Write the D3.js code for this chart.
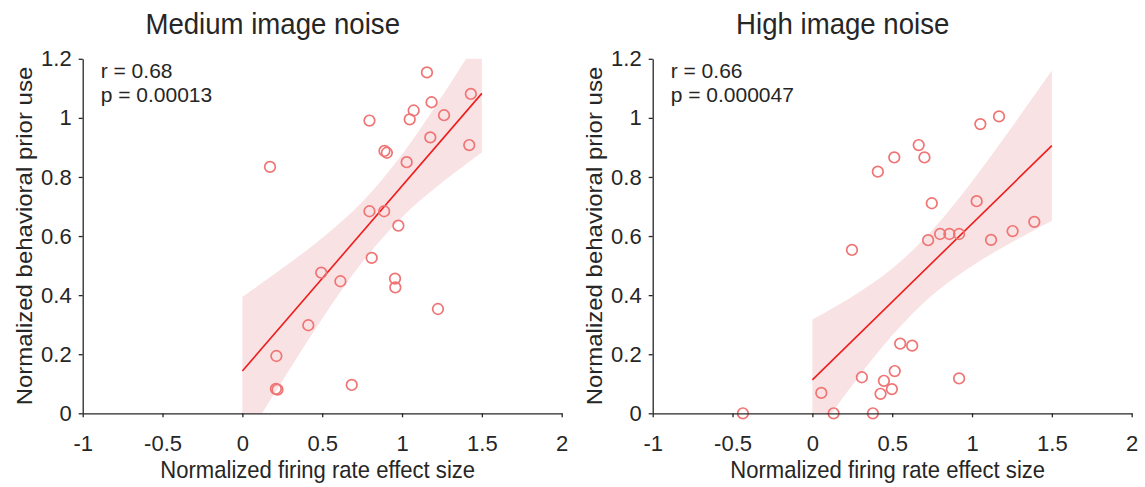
<!DOCTYPE html>
<html>
<head>
<meta charset="utf-8">
<script src="https://cdn.jsdelivr.net/npm/d3@7"></script>
<style>
  html, body { margin: 0; padding: 0; background: #fff; }
  svg { display: block; }
  text { font-family: "Liberation Sans", Arial, Helvetica, sans-serif; fill: #262626; }
</style>
</head>
<body>
<svg id="chart" width="1145" height="487"></svg>
<script>
// Axis ticks
const xTicks = [-1, -0.5, 0, 0.5, 1, 1.5, 2];
const xTickLabels = ["-1", "-0.5", "0", "0.5", "1", "1.5", "2"];
const yTicks = [0, 0.2, 0.4, 0.6, 0.8, 1.0, 1.2];
const yTickLabels = ["0", "0.2", "0.4", "0.6", "0.8", "1", "1.2"];

// Medium image noise: per-neuron effect size vs behavioral prior use
const medX = [1.156, 1.431, 1.185, 1.073, 1.263, 0.796, 1.048, 1.177, 1.421, 0.890, 0.905,
              1.029, 0.173, 0.796, 0.888, 0.977, 0.810, 0.494, 0.614, 0.956, 0.958, 1.225,
              0.413, 0.213, 0.210, 0.220, 0.685];
const medY = [1.154, 1.081, 1.053, 1.025, 1.009, 0.991, 0.995, 0.934, 0.908, 0.888, 0.882,
              0.850, 0.834, 0.684, 0.684, 0.635, 0.526, 0.476, 0.447, 0.456, 0.426, 0.353,
              0.298, 0.194, 0.083, 0.080, 0.096];

// High image noise
const highX = [1.169, 1.052, 0.666, 0.513, 0.702, 0.410, 0.748, 1.029, 1.390, 1.254, 0.800,
               0.858, 0.919, 0.725, 1.119, 0.248, 0.550, 0.625, 0.516, 0.310, 0.919, 0.448,
               0.498, 0.427, 0.056, -0.435, 0.133, 0.379];
const highY = [1.005, 0.979, 0.908, 0.866, 0.866, 0.818, 0.711, 0.718, 0.648, 0.617, 0.607,
               0.607, 0.607, 0.586, 0.587, 0.553, 0.236, 0.229, 0.143, 0.122, 0.118, 0.110,
               0.082, 0.066, 0.069, 0.000, 0.000, 0.000];

// Linear fits (end points) and 95% confidence bands
const fitX = [0, 1.5];
const medFitY = [0.143, 1.083];
const highFitY = [0.113, 0.906];
const bandX = [0, 0.25, 0.5, 0.75, 1.0, 1.25, 1.5];
const medBandLo = [-0.108, 0.109, 0.320, 0.511, 0.664, 0.781, 0.883];
const medBandHi = [0.394, 0.491, 0.593, 0.715, 0.876, 1.073, 1.285];
const highBandLo = [-0.091, 0.095, 0.264, 0.400, 0.499, 0.579, 0.652];
const highBandHi = [0.317, 0.395, 0.490, 0.620, 0.785, 0.969, 1.160];

const panels = [
  { title: "Medium image noise", x: medX, y: medY, fitY: medFitY,
    lo: medBandLo, hi: medBandHi, r: "r = 0.68", p: "p = 0.00013", left: 82.7 },
  { title: "High image noise", x: highX, y: highY, fitY: highFitY,
    lo: highBandLo, hi: highBandHi, r: "r = 0.66", p: "p = 0.000047", left: 652.7 }
];

const W = 479, TOP = 58.8, BOTTOM = 413.3;
const svg = d3.select("#chart");
const SQ = 0.92; // horizontal squeeze of the text glyphs

function squeezedText(g, x, y, str, size, anchor, rotate) {
  return g.append("text")
    .attr("transform", `translate(${x},${y})` +
      (rotate ? ` rotate(${rotate}) scale(1,${SQ})` : ` scale(${SQ},1)`))
    .attr("text-anchor", anchor)
    .style("font-size", size + "px")
    .text(str);
}

panels.forEach((P, i) => {
  const g = svg.append("g");
  const x = d3.scaleLinear().domain([-1, 2]).range([P.left, P.left + W]);
  const y = d3.scaleLinear().domain([0, 1.2]).range([BOTTOM, TOP]);

  const clipId = "clip" + i;
  svg.append("clipPath").attr("id", clipId)
    .append("rect")
    .attr("x", x(-1)).attr("y", y(1.2))
    .attr("width", x(2) - x(-1)).attr("height", y(0) - y(1.2));

  // confidence band
  const bandData = bandX.map((v, k) => ({ x: v, lo: P.lo[k], hi: P.hi[k] }));
  g.append("path")
    .datum(bandData)
    .attr("clip-path", `url(#${clipId})`)
    .attr("fill", "#f9e2e4")
    .attr("d", d3.area()
      .curve(d3.curveCatmullRom)
      .x(d => x(d.x)).y0(d => y(d.lo)).y1(d => y(d.hi)));

  // regression line
  g.append("path")
    .datum(fitX.map((v, k) => [v, P.fitY[k]]))
    .attr("fill", "none")
    .attr("stroke", "#ee1c1c")
    .attr("stroke-width", 1.6)
    .attr("d", d3.line().x(d => x(d[0])).y(d => y(d[1])));

  // scatter points
  g.selectAll("circle.pt")
    .data(P.x.map((v, k) => [v, P.y[k]]))
    .join("circle")
    .attr("class", "pt")
    .attr("cx", d => x(d[0])).attr("cy", d => y(d[1]))
    .attr("r", 5.3)
    .attr("fill", "none")
    .attr("stroke", "#f07474")
    .attr("stroke-width", 1.7);

  // axes
  const xAxis = d3.axisBottom(x).tickValues(xTicks)
    .tickFormat((d, k) => xTickLabels[k]).tickSizeInner(4).tickSizeOuter(0).tickPadding(6);
  const yAxis = d3.axisLeft(y).tickValues(yTicks)
    .tickFormat((d, k) => yTickLabels[k]).tickSizeInner(4).tickSizeOuter(0).tickPadding(7);

  const gx = g.append("g").attr("transform", `translate(0,${BOTTOM})`).call(xAxis);
  const gy = g.append("g").attr("transform", `translate(${P.left},0)`).call(yAxis);
  [gx, gy].forEach(a => {
    a.select(".domain").attr("stroke", "#262626").attr("stroke-width", 1.3);
    a.selectAll(".tick line").attr("stroke", "#262626").attr("stroke-width", 1.3);
    a.selectAll(".tick text")
      .style("font-family", '"Liberation Sans", Arial, sans-serif')
      .style("font-size", "22px").attr("fill", "#262626");
  });
  gx.selectAll(".tick text").attr("dy", "1.25em");

  // statistics text
  g.append("text").attr("x", P.left + 18).attr("y", 78)
    .style("font-size", "21px").text(P.r);
  g.append("text").attr("x", P.left + 18).attr("y", 101.5)
    .style("font-size", "21px").text(P.p);

  // titles and axis labels
  squeezedText(g, P.left + 190, 34, P.title, 30, "middle");
  squeezedText(g, P.left + 235, 478, "Normalized firing rate effect size", 24, "middle");
  squeezedText(g, P.left - 50.5, (TOP + BOTTOM) / 2, "Normalized behavioral prior use", 24, "middle", -90);
});
</script>
</body>
</html>
